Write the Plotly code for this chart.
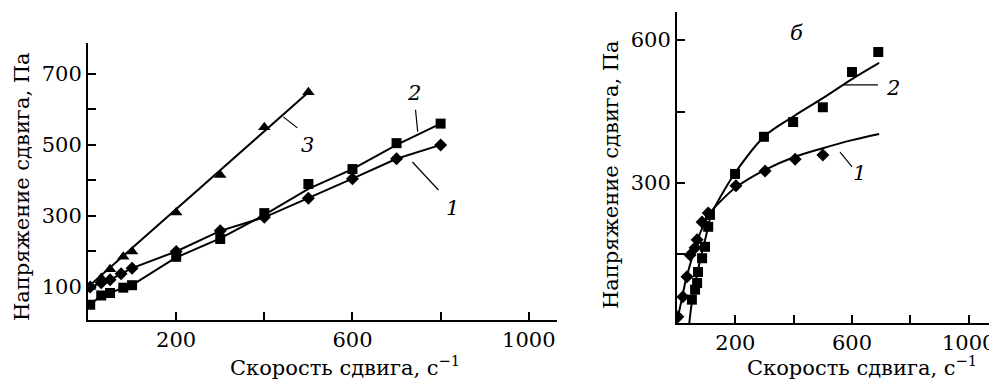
import plotly.graph_objects as go

# ---------------- Panel а data ----------------
a_x1 = [5, 30, 50, 75, 100, 200, 300, 400, 500, 600, 700, 800]
a_y1 = [100, 112, 120, 137, 153, 200, 258, 296, 350, 405, 461, 500]

a_x2 = [5, 30, 50, 80, 100, 200, 300, 400, 500, 600, 700, 800]
a_y2 = [50, 76, 83, 98, 105, 185, 235, 308, 390, 432, 505, 560]
a_line2_x = [5, 30, 50, 80, 100, 200, 300, 400, 500, 600, 700, 800]
a_line2_y = [50, 76, 83, 98, 105, 183, 237, 303, 376, 432, 500, 560]

a_x3 = [5, 30, 50, 80, 100, 200, 300, 400, 500]
a_y3 = [100, 125, 150, 185, 200, 310, 415, 550, 648]
a_line3_x = [0, 500]
a_line3_y = [100, 648]

# ---------------- Panel б data ----------------
b_x1 = [3, 20, 34, 45, 62, 69, 86, 107, 202, 302, 405, 500]
b_y1 = [19, 61, 103, 149, 164, 181, 218, 237, 294, 325, 350, 359]
b_curve1_x = [2, 15, 30, 50, 70, 90, 113, 150, 200, 300, 400, 500, 600, 693]
b_curve1_y = [15, 52, 95, 140, 180, 210, 237, 262, 290, 327, 354, 373, 390, 403]

b_x2 = [51, 62, 69, 72, 86, 96, 107, 113, 199, 298, 398, 500, 600, 690]
b_y2 = [55, 76, 90, 113, 142, 166, 208, 233, 319, 397, 428, 459, 533, 575]
b_curve2_x = [42, 50, 60, 70, 80, 90, 100, 113, 130, 150, 200, 300, 400, 500, 600, 693]
b_curve2_y = [5, 45, 80, 112, 140, 165, 190, 225, 250, 272, 322, 398, 440, 478, 518, 552]

# tick values / labels
a_xticks = [200, 400, 600, 800, 1000]
a_xtext = ["200", "", "600", "", "1000"]
a_yticks = [100, 200, 300, 400, 500, 600, 700]
a_ytext = ["100", "", "300", "", "500", "", "700"]
b_xticks = [200, 400, 600, 800, 1000]
b_xtext = ["200", "", "600", "", "1000"]
b_yticks = [150, 300, 450, 600]
b_ytext = ["", "300", "", "600"]

FONT = "DejaVu Serif"
FS = 21
BLACK = "#000000"

# the page has an 8px body margin; size the figure so it ends at the window edge
OFF = 8
W, H = 997 - OFF, 389 - OFF


def fx(px):
    return (px - OFF) / W


def fy(py):
    return 1 - (py - OFF) / H


fig = go.Figure()

# panel а
fig.add_trace(go.Scatter(x=a_line3_x, y=a_line3_y, mode="lines",
                         line=dict(color=BLACK, width=2), xaxis="x", yaxis="y"))
fig.add_trace(go.Scatter(x=a_x3, y=a_y3, mode="markers",
                         marker=dict(symbol="triangle-up", size=11, color=BLACK),
                         xaxis="x", yaxis="y"))
fig.add_trace(go.Scatter(x=a_line2_x, y=a_line2_y, mode="lines",
                         line=dict(color=BLACK, width=2), xaxis="x", yaxis="y"))
fig.add_trace(go.Scatter(x=a_x2, y=a_y2, mode="markers",
                         marker=dict(symbol="square", size=10, color=BLACK),
                         xaxis="x", yaxis="y"))
fig.add_trace(go.Scatter(x=a_x1, y=a_y1, mode="lines+markers",
                         line=dict(color=BLACK, width=2),
                         marker=dict(symbol="diamond", size=10, color=BLACK),
                         xaxis="x", yaxis="y"))

# panel б
fig.add_trace(go.Scatter(x=b_curve1_x, y=b_curve1_y, mode="lines",
                         line=dict(color=BLACK, width=2, shape="spline"),
                         xaxis="x2", yaxis="y2"))
fig.add_trace(go.Scatter(x=b_curve2_x, y=b_curve2_y, mode="lines",
                         line=dict(color=BLACK, width=2, shape="spline"),
                         xaxis="x2", yaxis="y2"))
fig.add_trace(go.Scatter(x=b_x2, y=b_y2, mode="markers",
                         marker=dict(symbol="square", size=10, color=BLACK),
                         xaxis="x2", yaxis="y2"))
fig.add_trace(go.Scatter(x=b_x1, y=b_y1, mode="markers",
                         marker=dict(symbol="diamond", size=10, color=BLACK),
                         xaxis="x2", yaxis="y2"))


def axis_common():
    return dict(showline=True, linecolor=BLACK, linewidth=2, ticks="inside",
                ticklen=8, tickwidth=2, tickcolor=BLACK, showgrid=False,
                zeroline=False, tickfont=dict(family=FONT, size=FS, color=BLACK))


fig.update_layout(
    width=W, height=H, margin=dict(l=0, r=0, t=0, b=0),
    paper_bgcolor="white", plot_bgcolor="white", showlegend=False,
    font=dict(family=FONT, size=FS, color=BLACK),
    xaxis=dict(domain=[fx(88), fx(557)], range=[0, 1064], anchor="y",
               tickmode="array", tickvals=a_xticks, ticktext=a_xtext, **axis_common()),
    yaxis=dict(domain=[fy(320), fy(43)], range=[7, 787], anchor="x",
               tickmode="array", tickvals=a_yticks, ticktext=a_ytext, **axis_common()),
    xaxis2=dict(domain=[fx(677), 1.0], range=[0, 1097], anchor="y2",
                tickmode="array", tickvals=b_xticks, ticktext=b_xtext, **axis_common()),
    yaxis2=dict(domain=[fy(323), fy(12)], range=[6, 659], anchor="x2",
                tickmode="array", tickvals=b_yticks, ticktext=b_ytext, **axis_common()),
)


def txt(x, y, s, xref, yref, italic=True, size=FS, **kw):
    fig.add_annotation(x=x, y=y, xref=xref, yref=yref, text=s, showarrow=False,
                       font=dict(family=FONT, size=size, color=BLACK,
                                 style="italic" if italic else "normal"), **kw)


# axis titles
txt(fx(22), fy(187), "Напряжение сдвига, Па", "paper", "paper", italic=False,
    textangle=-90, xanchor="center", yanchor="middle")
txt(fx(345), fy(366), "Скорость сдвига, с<sup>−1</sup>", "paper", "paper", italic=False,
    xanchor="center", yanchor="middle")
txt(fx(611), fy(175), "Напряжение сдвига, Па", "paper", "paper", italic=False,
    textangle=-90, xanchor="center", yanchor="middle")
txt(fx(862), fy(366), "Скорость сдвига, с<sup>−1</sup>", "paper", "paper", italic=False,
    xanchor="center", yanchor="middle")

# panel labels and curve numbers
txt(498, 790, "а", "x", "y")
txt(498, 500, "3", "x", "y")
txt(739, 646, "2", "x", "y")
txt(827, 323, "1", "x", "y")
txt(411, 615, "б", "x2", "y2")
txt(740, 499, "2", "x2", "y2")
txt(627, 321, "1", "x2", "y2")

# leader lines
leaders = [
    ("x", "y", 443, 579, 475, 548),
    ("x", "y", 743, 599, 748, 537),
    ("x", "y", 736, 452, 795, 373),
    ("x2", "y2", 569, 506, 689, 506),
    ("x2", "y2", 559, 365, 600, 334),
]
for xr, yr, x0, y0, x1, y1 in leaders:
    fig.add_shape(type="line", xref=xr, yref=yr, x0=x0, y0=y0, x1=x1, y1=y1,
                  line=dict(color=BLACK, width=1.2))

fig.write_html("out.html")
